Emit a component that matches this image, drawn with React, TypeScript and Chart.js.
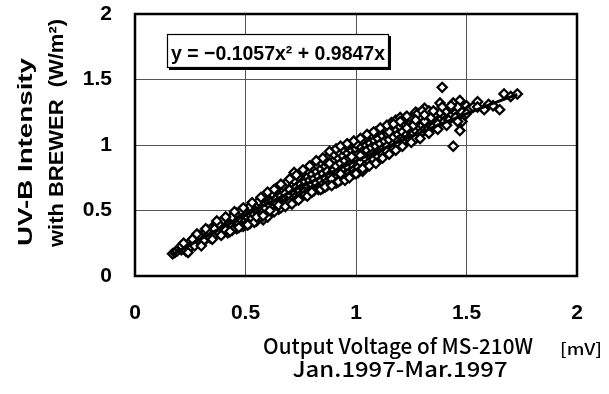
import React, { useEffect, useRef } from "react";
import { Chart, registerables } from "chart.js";

Chart.register(...registerables);

// Observed data: [output voltage (mV), UV-B intensity (W/m2)]
const observedPoints: [number, number][] = [
  [0.17,0.17],[0.18,0.18],[0.19,0.19],[0.20,0.21],[0.21,0.20],[0.22,0.22],[0.23,0.23],[0.24,0.21],[0.25,0.26],[0.26,0.24],
  [0.27,0.27],[0.28,0.25],[0.28,0.29],[0.29,0.28],[0.30,0.31],[0.30,0.26],[0.31,0.30],[0.32,0.33],[0.32,0.28],[0.33,0.31],
  [0.34,0.34],[0.34,0.29],[0.35,0.33],[0.35,0.37],
  [0.36,0.31],[0.37,0.36],[0.37,0.39],[0.38,0.33],[0.39,0.37],[0.39,0.41],[0.40,0.35],[0.40,0.39],[0.41,0.42],[0.42,0.37],
  [0.42,0.33],[0.43,0.40],[0.43,0.44],[0.44,0.38],[0.45,0.42],[0.45,0.46],[0.46,0.36],[0.46,0.44],[0.47,0.40],[0.47,0.48],
  [0.48,0.43],[0.49,0.46],[0.49,0.38],[0.50,0.49],[0.50,0.42],[0.51,0.45],[0.51,0.51],[0.52,0.40],[0.52,0.47],[0.53,0.50],
  [0.53,0.44],[0.54,0.53],[0.54,0.47],[0.55,0.42],[0.55,0.50],
  [0.56,0.54],[0.56,0.47],[0.57,0.51],[0.57,0.57],[0.58,0.43],[0.58,0.49],[0.59,0.55],[0.59,0.52],[0.60,0.58],[0.60,0.48],
  [0.61,0.54],[0.61,0.60],[0.62,0.51],[0.62,0.57],[0.63,0.62],[0.63,0.53],[0.64,0.59],[0.64,0.55],[0.65,0.64],[0.65,0.51],
  [0.66,0.57],[0.66,0.61],[0.67,0.66],[0.67,0.55],[0.68,0.60],[0.68,0.63],[0.69,0.57],[0.69,0.68],[0.70,0.62],[0.70,0.66],
  [0.71,0.58],[0.71,0.71],[0.72,0.79],[0.72,0.64],[0.73,0.68],[0.73,0.61],[0.74,0.72],[0.74,0.66],[0.75,0.70],[0.75,0.62],
  [0.76,0.74],[0.76,0.68],[0.77,0.65],[0.77,0.72],[0.78,0.76],[0.78,0.69],[0.79,0.66],[0.79,0.73],[0.80,0.78],[0.80,0.70],
  [0.81,0.74],[0.81,0.67],[0.82,0.80],[0.82,0.71],[0.83,0.76],[0.83,0.68],[0.84,0.82],[0.84,0.73],[0.85,0.78],[0.85,0.70],
  [0.86,0.84],[0.86,0.75],[0.87,0.80],[0.87,0.72],[0.88,0.92],[0.88,0.77],[0.89,0.85],[0.89,0.70],[0.90,0.81],[0.90,0.88],
  [0.91,0.75],[0.91,0.84],[0.92,0.79],[0.92,0.90],[0.93,0.73],[0.93,0.86],[0.94,0.82],[0.94,0.92],[0.95,0.77],[0.95,0.88],
  [0.96,0.84],[0.96,0.94],[0.97,0.79],[0.97,0.90],[0.98,0.86],[0.98,0.96],[0.99,0.81],[0.99,0.92],[1.00,0.88],[1.00,0.97],
  [1.01,0.83],[1.01,0.93],[1.02,0.99],[1.02,0.87],[1.03,0.95],[1.03,0.80],[1.04,1.01],[1.04,0.90],[1.05,0.96],[1.05,0.85],
  [1.06,1.02],[1.06,0.92],[1.07,0.98],[1.07,0.88],[1.08,1.04],[1.08,0.94],[1.09,0.99],[1.09,0.90],[1.10,1.05],[1.10,0.95],
  [1.11,1.01],[1.11,0.92],[1.12,1.07],[1.12,0.97],[1.13,1.03],[1.13,0.94],[1.14,1.09],[1.14,0.99],[1.15,1.15],[1.15,1.04],
  [1.16,0.96],[1.16,1.10],[1.17,1.01],[1.17,1.06],[1.18,1.12],[1.18,0.98],[1.19,1.08],[1.19,1.03],[1.20,1.14],[1.20,1.00],
  [1.21,1.06],[1.21,1.10],[1.22,1.02],[1.22,1.16],[1.23,1.08],[1.23,1.04],[1.24,1.12],[1.24,1.19],[1.25,1.06],[1.25,1.14],
  [1.26,1.09],[1.26,1.22],[1.27,1.25],[1.27,1.11],[1.28,1.07],[1.28,1.17],[1.29,1.13],[1.29,1.21],[1.30,1.10],[1.30,1.15],
  [1.31,1.28],[1.31,1.12],[1.32,1.23],[1.32,1.16],[1.33,1.13],[1.33,1.19],[1.34,1.15],[1.35,1.21],[1.35,1.17],[1.36,1.18],
  [1.37,1.20],[1.38,1.32],[1.38,1.19],[1.39,1.44],[1.40,1.22],[1.41,1.20],[1.42,1.24],[1.43,1.23],[1.44,1.32],[1.44,0.99],
  [1.45,1.25],[1.46,1.22],[1.47,1.34],[1.47,1.11],[1.48,1.18],[1.49,1.27],[1.49,1.23],[1.50,1.30],[1.51,1.27],[1.53,1.29],
  [1.55,1.33],[1.55,1.29],[1.58,1.27],[1.60,1.31],[1.62,1.30],[1.65,1.27],[1.67,1.39],[1.70,1.37],[1.73,1.39],
  [0.21,0.23],[0.23,0.19],[0.25,0.22],[0.26,0.28],[0.27,0.23],[0.29,0.31],[0.31,0.27],[0.33,0.35],[0.36,0.36],[0.38,0.40],
  [0.40,0.43],[0.41,0.35],[0.44,0.45],[0.44,0.35],[0.46,0.48],[0.48,0.38],[0.48,0.50],[0.50,0.39],
  [0.52,0.53],[0.54,0.41],[0.56,0.57],[0.57,0.45],[0.59,0.61],[0.60,0.45],[0.62,0.63],[0.63,0.49],[0.64,0.67],[0.66,0.52],
  [0.67,0.69],[0.68,0.55],[0.69,0.72],[0.70,0.56],[0.72,0.73],[0.73,0.58],[0.74,0.76],[0.75,0.60],[0.76,0.79],[0.77,0.62],
  [0.78,0.81],[0.79,0.64],[0.80,0.83],[0.81,0.65],
  [0.82,0.85],[0.83,0.66],[0.84,0.87],[0.85,0.67],[0.86,0.88],[0.87,0.69],[0.88,0.86],[0.89,0.74],[0.90,0.93],[0.91,0.71],
  [0.92,0.95],[0.93,0.78],[0.94,0.97],[0.95,0.74],[0.96,0.99],[0.97,0.76],[0.98,0.91],[0.99,0.78],[1.00,1.01],[1.01,0.79],
  [1.02,0.92],[1.03,1.04],[1.04,0.84],[1.05,1.06],[1.06,0.87],[1.07,1.08],[1.08,0.89],[1.09,1.10],[1.10,0.91],
  [1.11,1.12],[1.12,0.93],[1.13,1.13],[1.14,0.95],[1.15,1.10],[1.16,1.17],[1.17,0.97],[1.18,1.19],[1.19,1.00],[1.20,1.21],
  [1.21,1.03],[1.22,1.20],[1.23,1.13],[1.24,1.05],[1.25,1.20],[1.26,1.15],[1.27,1.05],[1.28,1.24],[1.29,1.09],[1.30,1.26],
  [1.31,1.18],[1.32,1.11],[1.33,1.26],[1.34,1.21],[1.35,1.14],[1.36,1.24],[1.37,1.16],[1.38,1.25],[1.40,1.18],[1.41,1.26],
  [1.42,1.19],[1.43,1.28],[1.45,1.21],[1.46,1.29],[1.48,1.25],
  [0.22,0.25],[0.24,0.18],[0.28,0.32],[0.30,0.23],[0.32,0.36],[0.35,0.28],[0.37,0.42],[0.39,0.31],[0.41,0.45],[0.43,0.34],
  [0.45,0.49],[0.47,0.37],[0.49,0.52],[0.51,0.39],[0.53,0.56],[0.55,0.45],[0.57,0.60],[0.58,0.46],[0.60,0.64],[0.61,0.50],
  [0.63,0.66],[0.65,0.54],[0.66,0.70],[0.68,0.53],[0.70,0.74],[0.71,0.55],[0.73,0.77],[0.74,0.58],[0.76,0.81],[0.78,0.61],
  [0.79,0.84],[0.80,0.64],[0.82,0.88],[0.84,0.66],[0.85,0.90],[0.86,0.68],[0.88,0.95],[0.89,0.69],[0.91,0.97],[0.92,0.72],
  [0.93,0.99],[0.95,0.73],[0.96,1.01],[0.97,0.75],[0.99,1.03],[1.00,0.78],[1.02,1.05],[1.03,0.82],[1.05,1.08],[1.06,0.84],
  [1.08,1.10],[1.09,0.86],[1.11,1.13],[1.12,0.90],[1.14,1.15],[1.15,0.93],[1.17,1.16],[1.18,0.96],[1.20,1.18],[1.21,0.99],
  [1.23,1.22],[1.25,1.02],[1.27,1.19],[1.29,1.05],[1.31,1.23],[1.33,1.09],[1.35,1.26],[1.37,1.12],[1.39,1.29],[1.41,1.15],
  [1.43,1.30],[1.46,1.18],[1.50,1.24],
];

// Fitted trend line (y = -0.1057x^2 + 0.9847x), sampled points
const trendX = [0.17, 0.4, 0.6, 0.8, 1.0, 1.2, 1.4, 1.6, 1.73];
const trendY = [0.164, 0.377, 0.553, 0.720, 0.879, 1.029, 1.171, 1.305, 1.387];

const axisTicks = [0, 0.5, 1, 1.5, 2];
const axisTickLabels = ["0", "0.5", "1", "1.5", "2"];

const equationText = "y = −0.1057x² + 0.9847x";
const yTitleLine1 = "UV-B Intensity";
const yTitleLine2 = "with BREWER  (W/m²)";
const xTitleLine1 = "Output Voltage of MS-210W";
const xUnit = "[mV]";
const xTitleLine2 = "Jan.1997-Mar.1997";

const FONT = "'Liberation Sans', Arial, sans-serif";
const JFONT = "'Noto Sans CJK JP', 'Liberation Sans', sans-serif";

function drawFit(
  ctx: CanvasRenderingContext2D,
  text: string,
  cx: number,
  cy: number,
  width: number,
  font: string,
  rot = 0
) {
  ctx.save();
  ctx.font = font;
  const m = ctx.measureText(text).width;
  ctx.translate(cx, cy);
  ctx.rotate(rot);
  ctx.scale(width / m, 1);
  ctx.textAlign = "center";
  ctx.textBaseline = "middle";
  ctx.fillStyle = "#000";
  ctx.fillText(text, 0, 0);
  ctx.restore();
}

const decorPlugin = {
  id: "decor",
  afterDatasetsDraw(chart: any) {
    const ctx = chart.ctx as CanvasRenderingContext2D;
    const a = chart.chartArea;
    ctx.save();
    ctx.strokeStyle = "#000";
    ctx.lineWidth = 2.5;
    ctx.strokeRect(a.left, a.top, a.right - a.left, a.bottom - a.top);
    ctx.fillStyle = "#000";
    ctx.fillRect(169, 36, 222, 34);
    ctx.fillStyle = "#fff";
    ctx.fillRect(167, 34, 222, 34);
    ctx.strokeStyle = "#000";
    ctx.lineWidth = 1.2;
    ctx.strokeRect(167.5, 34.5, 221, 33);
    ctx.restore();
    drawFit(ctx, equationText, 278, 54, 214, `bold 21px ${FONT}`);
  },
  afterDraw(chart: any) {
    const ctx = chart.ctx as CanvasRenderingContext2D;
    drawFit(ctx, yTitleLine1, 26, 152, 188, `bold 21px ${FONT}`, -Math.PI / 2);
    drawFit(ctx, yTitleLine2, 57, 133, 228, `bold 21px ${FONT}`, -Math.PI / 2);
    drawFit(ctx, xTitleLine1, 398, 346, 270, `500 21px ${JFONT}`);
    drawFit(ctx, xUnit, 581, 349, 42, `500 16px ${JFONT}`);
    drawFit(ctx, xTitleLine2, 400, 369, 215, `500 21px ${JFONT}`);
  },
};

export default function App() {
  const ref = useRef<HTMLCanvasElement | null>(null);
  useEffect(() => {
    document.body.style.margin = "0";
    const canvas = ref.current!;
    const setTicks = (scale: any) => {
      scale.ticks = axisTicks.map((v) => ({ value: v }));
    };
    const fmt = (v: any) => {
      const i = axisTicks.indexOf(Number(v));
      return i >= 0 ? axisTickLabels[i] : "";
    };
    const chart = new Chart(canvas, {
      type: "scatter",
      data: {
        datasets: [
          {
            type: "line",
            data: trendX.map((x, i) => ({ x, y: trendY[i] })),
            borderColor: "#000",
            borderWidth: 3,
            pointRadius: 0,
            cubicInterpolationMode: "monotone",
            fill: false,
            order: 0,
          } as any,
          {
            type: "scatter",
            data: observedPoints.map(([x, y]) => ({ x, y })),
            pointStyle: "rectRot",
            pointRadius: 4.6,
            borderWidth: 2.3,
            borderColor: "#000",
            backgroundColor: "#fff",
            order: 1,
          },
        ],
      },
      options: {
        responsive: false,
        animation: false,
        layout: { autoPadding: false, padding: { top: 14, right: 32, left: 0, bottom: 0 } },
        plugins: { legend: { display: false }, tooltip: { enabled: false } },
        scales: {
          x: {
            type: "linear",
            min: 0,
            max: 2,
            afterBuildTicks: setTicks,
            afterFit: (s: any) => {
              s.height = 118;
              s.paddingLeft = 0;
              s.paddingRight = 0;
              s.paddingTop = 0;
              s.paddingBottom = 0;
            },
            grid: { color: "#555", lineWidth: 1, drawTicks: false },
            border: { display: false },
            ticks: {
              padding: 25,
              color: "#000",
              font: { family: FONT, size: 21, weight: "bold" },
              maxRotation: 0,
              callback: fmt,
            },
          },
          y: {
            type: "linear",
            min: 0,
            max: 2,
            afterBuildTicks: setTicks,
            afterFit: (s: any) => {
              s.width = 135;
              s.paddingLeft = 0;
              s.paddingRight = 0;
              s.paddingTop = 0;
              s.paddingBottom = 0;
            },
            grid: { color: "#555", lineWidth: 1, drawTicks: false },
            border: { display: false },
            ticks: {
              padding: 23,
              color: "#000",
              font: { family: FONT, size: 21, weight: "bold" },
              callback: fmt,
            },
          },
        },
      },
      plugins: [decorPlugin],
    });
    return () => chart.destroy();
  }, []);
  return (
    <div style={{ width: 609, height: 394 }}>
      <canvas ref={ref} width={609} height={394} style={{ display: "block" }} />
    </div>
  );
}
